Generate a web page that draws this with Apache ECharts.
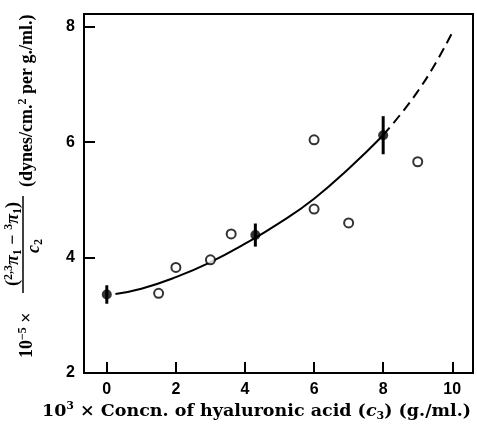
<!DOCTYPE html>
<html>
<head>
<meta charset="utf-8">
<script src="https://cdn.jsdelivr.net/npm/echarts@6/dist/echarts.min.js"></script>
<style>
  html, body { margin: 0; padding: 0; background: #fff; }
  #main { width: 477px; height: 428px; }
</style>
</head>
<body>
<div id="main"></div>
<script>
// data
const openX = [1.5, 2, 3, 3.6, 6, 6, 7, 9];
const openY = [3.38, 3.83, 3.96, 4.41, 6.04, 4.84, 4.6, 5.66];

const meanX = [0, 4.3, 8];
const meanY = [3.36, 4.39, 6.12];
const meanErr = [0.16, 0.2, 0.33];

// fitted curve, solid part then the extrapolated dashed part
const fitX = [0.25, 1, 2, 3, 4, 5, 6, 7, 8];
const fitY = [3.37, 3.46, 3.66, 3.92, 4.24, 4.60, 5.02, 5.54, 6.12];
const extX = [8, 8.5, 9, 9.5, 10];
const extY = [6.12, 6.48, 6.88, 7.35, 7.9];

const xTicks = [0, 2, 4, 6, 8, 10];
const yTicks = [2, 4, 6, 8];

const zip = (a, b) => a.map((v, i) => [v, b[i]]);

const serif = '"Liberation Serif", "DejaVu Serif", serif';
const wideSerif = '"DejaVu Serif", serif';
const sans = '"Liberation Sans", Arial, sans-serif';

function richFor(family, size) {
  const base = { fontFamily: family, fontWeight: 'bold', fill: '#000', color: '#000' };
  const small = Math.round(size * 0.65);
  return {
    m: Object.assign({ fontSize: size, lineHeight: size + 3 }, base),
    i: Object.assign({ fontSize: size, lineHeight: size + 3, fontStyle: 'italic' }, base),
    sup: Object.assign({ fontSize: small, lineHeight: small, verticalAlign: 'top' }, base),
    sub: Object.assign({ fontSize: small, lineHeight: small, verticalAlign: 'bottom' }, base)
  };
}
const xRich = richFor(wideSerif, 17.5);
const yRich = richFor(serif, 18);

const chart = echarts.init(document.getElementById('main'));

const tickStyle = { inside: true, length: 11, lineStyle: { color: '#000', width: 2 } };
const labelStyle = { margin: 9, color: '#000', fontFamily: sans, fontWeight: 'bold', fontSize: 16 };

const option = {
  backgroundColor: '#fff',
  animation: false,
  grid: {
    left: 84, top: 14, right: 4, bottom: 55,
    show: true, borderColor: '#000', borderWidth: 2, backgroundColor: 'transparent'
  },
  xAxis: {
    type: 'value', min: -0.66, max: 10.6,
    splitLine: { show: false },
    axisLine: { show: false, onZero: false },
    axisTick: Object.assign({ customValues: xTicks }, tickStyle),
    axisLabel: Object.assign({ customValues: xTicks }, labelStyle)
  },
  yAxis: {
    type: 'value', min: 2, max: 8.22,
    splitLine: { show: false },
    axisLine: { show: false, onZero: false },
    axisTick: Object.assign({ customValues: yTicks }, tickStyle),
    axisLabel: Object.assign({ customValues: yTicks }, labelStyle)
  },
  series: [
    {
      type: 'line', data: zip(fitX, fitY), smooth: true, symbol: 'none',
      lineStyle: { color: '#000', width: 2 }, z: 2
    },
    {
      type: 'line', data: zip(extX, extY), smooth: true, symbol: 'none',
      lineStyle: { color: '#000', width: 2, type: [10, 6] }, z: 2
    },
    {
      type: 'custom',
      data: meanX.map((x, i) => [x, meanY[i] - meanErr[i], meanY[i] + meanErr[i]]),
      renderItem: function (params, api) {
        const p1 = api.coord([api.value(0), api.value(1)]);
        const p2 = api.coord([api.value(0), api.value(2)]);
        return {
          type: 'line',
          shape: { x1: p1[0], y1: p1[1], x2: p2[0], y2: p2[1] },
          style: { stroke: '#000', lineWidth: 3 }
        };
      },
      z: 3
    },
    {
      type: 'scatter', data: zip(meanX, meanY), symbol: 'circle', symbolSize: 10,
      itemStyle: { color: '#000' }, z: 4
    },
    {
      type: 'scatter', data: zip(openX, openY), symbol: 'circle', symbolSize: 9,
      itemStyle: { color: '#fff', borderColor: '#000', borderWidth: 2 }, z: 4
    }
  ],
  graphic: [
    {
      type: 'text', left: 42, top: 401,
      style: {
        text: '{m|10}{sup|3}{m| × Concn. of hyaluronic acid (}{i|c}{sub|3}{m|) (g./ml.)}',
        rich: xRich
      }
    },
    {
      // rotated y-axis title, local x runs up the page
      type: 'group', x: 27, y: 373, rotation: Math.PI / 2,
      children: [
        {
          type: 'text', x: 15, y: 0,
          style: { text: '{m|10}{sup|−5}{m| ×}', rich: yRich, verticalAlign: 'middle', align: 'left' }
        },
        {
          type: 'text', x: 129, y: -14,
          style: { text: '{m|(}{sup|2,3}{i|π}{sub|1}{m| − }{sup|3}{i|π}{sub|1}{m|)}', rich: yRich, verticalAlign: 'middle', align: 'center' }
        },
        {
          type: 'line', shape: { x1: 80, y1: -4, x2: 177, y2: -4 },
          style: { stroke: '#000', lineWidth: 1.5 }
        },
        {
          type: 'text', x: 127, y: 7,
          style: { text: '{i|c}{sub|2}', rich: yRich, verticalAlign: 'middle', align: 'center' }
        },
        {
          type: 'text', x: 186, y: 0,
          style: { text: '{m|(dynes/cm.}{sup|2}{m| per g./ml.)}', rich: yRich, verticalAlign: 'middle', align: 'left' }
        }
      ]
    }
  ]
};

chart.setOption(option);
</script>
</body>
</html>
